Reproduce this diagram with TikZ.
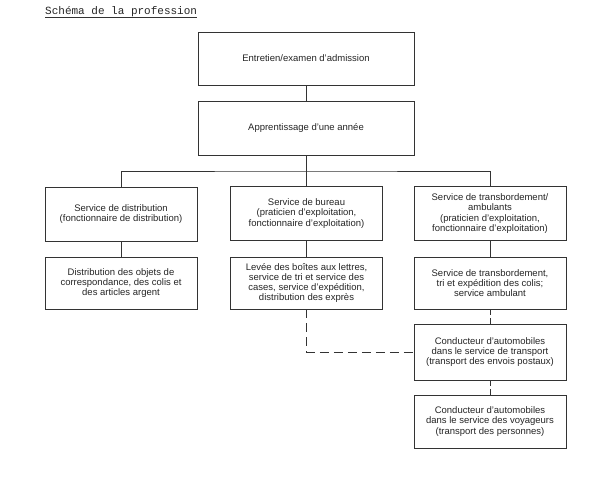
\documentclass[tikz,border=0pt]{standalone}
\usepackage{fontspec}
\setmainfont{Liberation Sans}
\newfontfamily\typew{Liberation Mono}
\begin{document}
\begin{tikzpicture}[x=1pt,y=1pt,
  box/.style={draw=black!80, line width=0.8pt, align=center, inner sep=2pt,
    text=black!85, font=\fontsize{9.5}{10.2}\selectfont},
  colbox/.style={box, minimum width=152pt, minimum height=54pt},
  link/.style={draw=black!80, line width=0.8pt},
  dlink/.style={link, dash pattern=on 9pt off 5pt},
  sdlink/.style={link, dash pattern=on 6pt off 3pt}]
\fill[white] (0,0) rectangle (600,-492);
\useasboundingbox (0,0) rectangle (600,-492);

\node[anchor=base west, inner sep=0, font=\typew\fontsize{11}{12}\selectfont, text=black!85] (title) at (45,-15) {Schéma de la profession};
\draw[black!80, line width=0.6pt] ([yshift=-2.8pt]title.base west) -- ([yshift=-2.8pt]title.base east);

\node[box, minimum width=216pt, minimum height=53pt] (b1) at (306,-58.5) {Entretien/examen d'admission};
\node[box, minimum width=216pt, minimum height=54pt] (b2) at (306,-128) {Apprentissage d'une année};

\node[colbox] (lt) at (121,-214) {Service de distribution\\(fonctionnaire de distribution)};
\node[colbox] (mt) at (306.5,-213.5) {Service de bureau\\(praticien d'exploitation,\\fonctionnaire d'exploitation)};
\node[colbox] (rt) at (490,-213.5) {Service de transbordement/\\ambulants\\(praticien d'exploitation,\\fonctionnaire d'exploitation)};

\node[colbox, minimum height=52pt] (lb) at (121,-283) {Distribution des objets de\\correspondance, des colis et\\des articles argent};
\node[colbox, minimum height=52pt] (mb) at (306.5,-283) {Levée des boîtes aux lettres,\\service de tri et service des\\cases, service d'expédition,\\distribution des exprès};
\node[colbox, minimum height=52pt] (rb) at (490,-283) {Service de transbordement,\\tri et expédition des colis;\\service ambulant};

\node[colbox, minimum height=56pt] (c1) at (490,-352) {Conducteur d'automobiles\\dans le service de transport\\(transport des envois postaux)};
\node[colbox, minimum height=53pt] (c2) at (490,-421.5) {Conducteur d'automobiles\\dans le service des voyageurs\\(transport des personnes)};

\coordinate (bus) at (306,-171);
\draw[link] (b1) -- (b2);
\draw[link] (b2.south) -- (bus);
\draw[link] (lt.north) |- (bus) -| (rt.north);
\draw[link] (mt.north) -- (mt.north |- bus);
\draw[link] (lt) -- (lb);
\draw[link] (mt) -- (mb);
\draw[link] (rt) -- (rb);
\draw[sdlink] (rb) -- (c1);
\draw[sdlink] (c1) -- (c2);
\draw[dlink] (mb.south) |- (c1.west);
\end{tikzpicture}
\end{document}
